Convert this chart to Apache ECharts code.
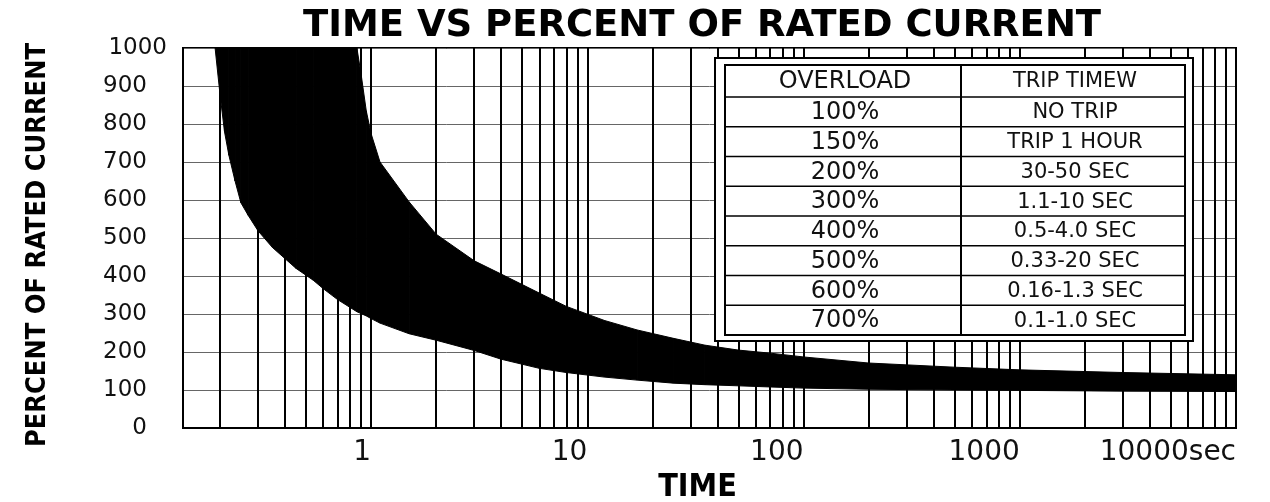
<!DOCTYPE html>
<html>
<head>
<meta charset="utf-8">
<title>Time vs percent of rated current</title>
<script src="https://cdn.jsdelivr.net/npm/echarts@6/dist/echarts.min.js"></script>
<style>
  html, body { margin: 0; padding: 0; background: #fff; }
  #main { width: 1270px; height: 502px; }
</style>
</head>
<body>
<div id="main"></div>
<script>
// trip band: time (sec) and the two edges in % of rated current
// upper edge is 1000 where the band runs off the top of the chart
const times    = [0.19, 0.2, 0.21, 0.22, 0.235, 0.25, 0.27, 0.3, 0.35, 0.45, 0.54, 0.6, 0.7, 0.86,
                  0.9, 0.95, 1, 1.1, 1.5, 2, 3, 4, 6, 8, 12, 17,
                  25, 35, 50, 70, 100, 200, 500, 1000, 3000, 10000];
const lowerPct = [1000, 880, 780, 718, 650, 593, 560, 519, 475, 420, 389, 367, 338, 306,
                  301, 295, 288, 276, 248, 231, 204, 181, 157, 146, 134, 126,
                  118, 114, 111, 108, 105, 102, 100, 99, 97, 96];
const upperPct = [1000, 1000, 1000, 1000, 1000, 1000, 1000, 1000, 1000, 1000, 1000, 1000, 1000, 1000,
                  930, 835, 775, 700, 595, 510, 440, 405, 355, 320, 283, 258,
                  236, 218, 205, 197, 187, 171, 160, 153, 146, 140];

// log paper: lines at 2..9 inside each decade
const decades = [0.1, 1, 10, 100, 1000];
const minorSteps = [2, 3, 4, 5, 6, 7, 8, 9];

// overload table
const tableHead = ['OVERLOAD', 'TRIP TIMEW'];
const overloads = ['100%', '150%', '200%', '300%', '400%', '500%', '600%', '700%'];
const tripTimes = ['NO TRIP', 'TRIP 1 HOUR', '30-50 SEC', '1.1-10 SEC',
                   '0.5-4.0 SEC', '0.33-20 SEC', '0.16-1.3 SEC', '0.1-1.0 SEC'];

const FONT = '"DejaVu Sans", "Liberation Sans", sans-serif';
const NARROW = '"Liberation Sans Narrow", "DejaVu Sans Condensed", "DejaVu Sans", sans-serif';

// one quad per pair of neighbouring samples
const bandSegments = [];
for (let i = 0; i < times.length - 1; i++) {
  bandSegments.push([times[i], lowerPct[i], upperPct[i],
                     times[i + 1], lowerPct[i + 1], upperPct[i + 1]]);
}

const minorLines = [];
decades.forEach(function (d) {
  minorSteps.forEach(function (m) {
    minorLines.push({ xAxis: +(d * m).toPrecision(6) });
  });
});

// table layout (px)
const box = { x: 715, y: 58, w: 478, h: 283 };
const tbl = { x: 725, y: 65, w: 460, h: 270, split: 961, headH: 32 };
tbl.rowH = (tbl.h - tbl.headH) / overloads.length;

function tableGraphics() {
  const els = [];
  els.push({ type: 'rect', z: 100, shape: { x: box.x, y: box.y, width: box.w, height: box.h },
             style: { fill: '#fff', stroke: '#000', lineWidth: 2 } });
  els.push({ type: 'rect', z: 101, shape: { x: tbl.x, y: tbl.y, width: tbl.w, height: tbl.h },
             style: { fill: 'none', stroke: '#000', lineWidth: 2 } });
  els.push({ type: 'line', z: 101, shape: { x1: tbl.split, y1: tbl.y, x2: tbl.split, y2: tbl.y + tbl.h },
             style: { stroke: '#000', lineWidth: 2 } });
  for (let k = 0; k < overloads.length; k++) {
    const y = tbl.y + tbl.headH + k * tbl.rowH;
    els.push({ type: 'line', z: 101, shape: { x1: tbl.x, y1: y, x2: tbl.x + tbl.w, y2: y },
               style: { stroke: '#000', lineWidth: 1.5 } });
  }
  const leftC = (tbl.x + tbl.split) / 2 + 2;
  const rightC = (tbl.split + tbl.x + tbl.w) / 2 + 2;
  function cell(txt, cx, cy, size) {
    return { type: 'text', z: 102, x: cx, y: cy,
             style: { text: txt, fill: '#111', fontSize: size, fontFamily: FONT,
                      textAlign: 'center', textVerticalAlign: 'middle',
                      align: 'center', verticalAlign: 'middle' } };
  }
  const headY = tbl.y + tbl.headH / 2 + 1;
  els.push(cell(tableHead[0], leftC, headY, 24));
  els.push(cell(tableHead[1], rightC, headY, 21));
  for (let k = 0; k < overloads.length; k++) {
    const cy = tbl.y + tbl.headH + (k + 0.5) * tbl.rowH + 1;
    els.push(cell(overloads[k], leftC, cy, 24));
    els.push(cell(tripTimes[k], rightC, cy, 21));
  }
  return els;
}

const chart = echarts.init(document.getElementById('main'));

chart.setOption({
  animation: false,
  backgroundColor: '#fff',
  title: {
    text: 'TIME VS PERCENT OF RATED CURRENT',
    left: 697,
    top: 3,
    textAlign: 'center',
    textStyle: { fontFamily: FONT, fontWeight: 'bold', fontSize: 37, color: '#000' }
  },
  grid: {
    left: 183, right: 34, top: 48, bottom: 74,
    outerBoundsMode: 'none',
    containLabel: false,
    show: true, borderColor: '#000', borderWidth: 2
  },
  xAxis: {
    type: 'log',
    logBase: 10,
    min: 0.135,
    max: 10000,
    name: 'TIME',
    nameLocation: 'middle',
    nameGap: 36,
    nameTextStyle: { fontFamily: NARROW, fontWeight: 'bold', fontSize: 32, color: '#000', padding: [0, 24, 0, 0] },
    axisLine: { show: true, lineStyle: { color: '#000', width: 2 } },
    axisTick: { show: false },
    splitLine: { show: true, lineStyle: { color: '#000', width: 2 } },
    axisLabel: {
      align: 'right',
      margin: 11,
      fontFamily: FONT,
      fontSize: 28,
      color: '#111',
      formatter: function (v) {
        if (v < 0.99) return '';
        const r = Math.round(v);
        return r === 10000 ? '10000sec' : String(r);
      }
    }
  },
  yAxis: {
    type: 'value',
    min: 0,
    max: 1000,
    interval: 100,
    name: 'PERCENT OF RATED CURRENT',
    nameLocation: 'middle',
    nameGap: 132,
    nameTextStyle: { fontFamily: NARROW, fontWeight: 'bold', fontSize: 27, color: '#000', padding: [0, 14, 0, 0] },
    axisLine: { show: true, lineStyle: { color: '#000', width: 2 } },
    axisTick: { show: false },
    splitLine: { show: true, lineStyle: { color: '#666', width: 1 } },
    axisLabel: {
      margin: 16,
      formatter: function (v) {
        return v === 1000 ? '{top|1000}' : '{n|' + v + '}';
      },
      rich: {
        top: { fontFamily: FONT, fontSize: 23, color: '#111' },
        n: { fontFamily: FONT, fontSize: 23, color: '#111', padding: [0, 20, 0, 0] }
      }
    }
  },
  series: [
    {
      name: 'log grid',
      type: 'line',
      data: [],
      silent: true,
      markLine: {
        silent: true,
        animation: false,
        symbol: ['none', 'none'],
        label: { show: false },
        emphasis: { disabled: true },
        lineStyle: { color: '#000', width: 2, type: 'solid' },
        data: minorLines
      }
    },
    {
      name: 'trip band',
      type: 'custom',
      silent: true,
      clip: true,
      encode: { x: [0, 3], y: [1, 2, 4, 5] },
      data: bandSegments,
      renderItem: function (params, api) {
        const a = api.coord([api.value(0), api.value(2)]);
        const b = api.coord([api.value(3), api.value(5)]);
        const c = api.coord([api.value(3), api.value(4)]);
        const d = api.coord([api.value(0), api.value(1)]);
        return {
          type: 'polygon',
          shape: { points: [a, b, c, d] },
          style: { fill: '#000', stroke: '#000', lineWidth: 1 }
        };
      }
    }
  ],
  graphic: tableGraphics()
});
</script>
</body>
</html>
